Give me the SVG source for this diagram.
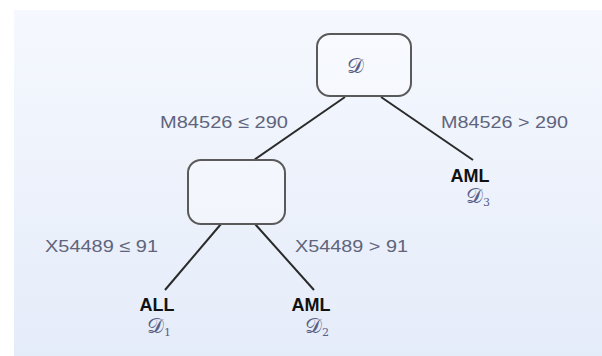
<svg xmlns="http://www.w3.org/2000/svg" width="602" height="356" viewBox="0 0 602 356">
<defs>
<linearGradient id="bg" x1="0" y1="0" x2="0" y2="1">
<stop offset="0" stop-color="#f5f8fe"/>
<stop offset="1" stop-color="#e5ecf9"/>
</linearGradient>
</defs>
<style>
.node{fill:#ffffff;fill-opacity:0.35;stroke:#5a5a5a;stroke-width:2}
.edge{stroke:#2a2a2a;stroke-width:2;fill:none}
.lbl{font-family:"Liberation Sans",Arial,sans-serif;font-size:17px;fill:#60647c}
.cls{font-family:"Liberation Sans",Arial,sans-serif;font-size:18px;font-weight:bold;fill:#111;text-anchor:middle}
.set{font-family:"DejaVu Serif","Liberation Serif",serif;font-size:21px;fill:#5a5f86;text-anchor:middle}
.sub{font-size:11px}
</style>
<rect x="14" y="10" width="588" height="346" fill="url(#bg)"/>
<g id="connectors">
<line class="edge" x1="345" y1="97" x2="254" y2="160"/>
<line class="edge" x1="381" y1="97" x2="473" y2="160"/>
<line class="edge" x1="221" y1="224" x2="165" y2="290"/>
<line class="edge" x1="255" y1="224" x2="314" y2="290"/>
<text class="lbl" x="160" y="128" textLength="128" lengthAdjust="spacingAndGlyphs">M84526 ≤ 290</text>
<text class="lbl" x="441" y="128" textLength="127" lengthAdjust="spacingAndGlyphs">M84526 &gt; 290</text>
<text class="lbl" x="45" y="252" textLength="113" lengthAdjust="spacingAndGlyphs">X54489 ≤ 91</text>
<text class="lbl" x="295" y="252" textLength="113" lengthAdjust="spacingAndGlyphs">X54489 &gt; 91</text>
</g>
<g id="root">
<rect class="node" x="317" y="34" width="94" height="62" rx="13"/>
<text class="set" x="355" y="73">𝒟</text>
</g>
<g id="inner">
<rect class="node" x="188" y="160" width="97" height="64" rx="13"/>
</g>
<g id="leaf3">
<text class="cls" x="470" y="182">AML</text>
<text class="set" x="478" y="203">𝒟<tspan class="sub" dy="3">3</tspan></text>
</g>
<g id="leaf1">
<text class="cls" x="157" y="311">ALL</text>
<text class="set" x="159" y="333">𝒟<tspan class="sub" dy="3">1</tspan></text>
</g>
<g id="leaf2">
<text class="cls" x="311" y="311">AML</text>
<text class="set" x="317" y="333">𝒟<tspan class="sub" dy="3">2</tspan></text>
</g>
</svg>
